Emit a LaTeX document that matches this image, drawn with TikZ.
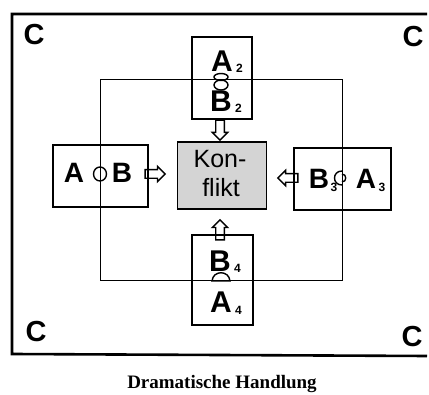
\documentclass[tikz,border=0pt]{standalone}
\usepackage{fontspec}
\setmainfont{Liberation Sans}
\newfontfamily\captionserif{Liberation Serif}
\usetikzlibrary{shapes.arrows}
\begin{document}
\begin{tikzpicture}[x=1pt,y=-1pt,
  frame/.style={line width=2.6pt},
  thinline/.style={line width=1pt},
  box/.style={draw, line width=2.6pt, inner sep=0pt},
  konfbox/.style={draw, line width=1.6pt, fill=black!17, inner sep=0pt},
  letter/.style={font=\fontsize{28}{28}\selectfont\bfseries, inner sep=0pt},
  bigletter/.style={font=\fontsize{30}{30}\selectfont\bfseries, inner sep=0pt},
  sub/.style={font=\fontsize{12}{12}\selectfont\bfseries, inner sep=0pt, anchor=base west},
  corner/.style={font=\fontsize{29}{29}\selectfont\bfseries, inner sep=0pt},
  ktext/.style={font=\fontsize{25}{25}\selectfont, inner sep=0pt},
  openarrow/.style={single arrow, draw, line width=1.4pt, minimum height=20pt,
    inner xsep=0pt, inner ysep=3.6pt, single arrow head extend=3.4pt},
  link/.style={line width=1.4pt},
  capt/.style={font=\captionserif\fontsize{19}{19}\selectfont\bfseries, inner sep=0pt}]
\useasboundingbox (0,0) rectangle (429,395);
% outer frame (right side runs off the page)
\coordinate (fTR) at (427,14);
\coordinate (fTL) at (12,14);
\coordinate (fBL) at (12,354);
\coordinate (fBR) at (427,356);
\draw[frame] (fTR) -- (fTL) -- (fBL) -- (fBR);
% inner thin rectangle
\coordinate (iTL) at (100,80);
\coordinate (iBR) at (342,281);
\draw[thinline] (iTL) rectangle (iBR);
% boxes
\node[box, minimum width=60pt, minimum height=82pt] (top) at (222,78) {};
\node[box, minimum width=61pt, minimum height=90pt] (bot) at (222.5,280) {};
\node[box, minimum width=95pt, minimum height=62pt] (left) at (100.5,176) {};
\node[box, minimum width=97pt, minimum height=62pt] (right) at (342.5,179) {};
\node[konfbox, minimum width=89pt, minimum height=67pt] (konf) at (222,175.5) {};
\node[ktext] (kon) at (220,159) {Kon-};
\node[ktext] (flikt) at (221,188) {flikt};
% letters
\node[bigletter] (a2) at (222,61) {A};
\node[sub] (a2s) at ([xshift=3pt,yshift=-1pt]a2.base east) {2};
\node[bigletter] (b2) at (221,101) {B};
\node[sub] (b2s) at ([xshift=3pt,yshift=-1pt]b2.base east) {2};
\node[letter] (a1) at (74,173) {A};
\node[letter] (b1) at (122,173) {B};
\node[letter] (b3) at (319,179) {B};
\node[sub] (b3s) at ([xshift=1pt,yshift=-3pt]b3.base east) {3};
\node[letter] (a3) at (366,179) {A};
\node[sub] (a3s) at ([xshift=2pt,yshift=-3pt]a3.base east) {3};
\node[bigletter] (b4) at (220,261) {B};
\node[sub] (b4s) at ([xshift=3pt,yshift=-1pt]b4.base east) {4};
\node[bigletter] (a4) at (221,302) {A};
\node[sub] (a4s) at ([xshift=3pt,yshift=-2pt]a4.base east) {4};
% corner letters
\node[corner] (c1) at (34,35) {C};
\node[corner] (c2) at (413,37) {C};
\node[corner] (c3) at (36,332) {C};
\node[corner] (c4) at (412,337) {C};
% link symbols
\coordinate (lt) at (221,80);
\draw[link] ([yshift=3pt]lt) ellipse [x radius=7pt, y radius=3.5pt];
\draw[link] ([yshift=-5pt]lt) ellipse [x radius=7pt, y radius=5pt];
\coordinate (ll) at (100,174);
\draw[link] (ll) ellipse [x radius=6.5pt, y radius=7pt];
\coordinate (lr) at (342,178);
\draw[link] ([yshift=7pt]lr) .. controls ([xshift=-10pt,yshift=7pt]lr) and ([xshift=-10pt,yshift=-7pt]lr) .. ([yshift=-7pt]lr);
\draw[link] ([yshift=4pt]lr) .. controls ([xshift=5pt,yshift=4pt]lr) and ([xshift=5pt,yshift=-4pt]lr) .. ([yshift=-4pt]lr);
\coordinate (lb) at (221,281);
\draw[link] ([xshift=-9pt]lb) .. controls ([xshift=-8pt,yshift=11pt]lb) and ([xshift=8pt,yshift=11pt]lb) .. ([xshift=9pt]lb) -- cycle;
% open arrows toward the conflict
\node[openarrow, rotate=-90] (arT) at (220,128) {};
\node[openarrow, rotate=90] (arB) at (220,232) {};
\node[openarrow] (arL) at (153,174) {};
\node[openarrow, rotate=180] (arR) at (290,178) {};
% caption
\node[capt, anchor=base] (cap) at (222,389) {Dramatische Handlung};
\end{tikzpicture}
\end{document}
